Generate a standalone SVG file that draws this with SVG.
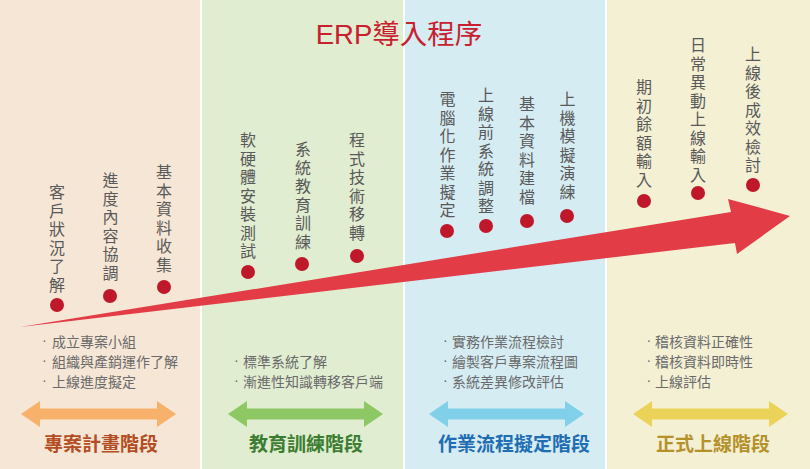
<svg xmlns="http://www.w3.org/2000/svg" width="810" height="469" viewBox="0 0 810 469">
<style>
.v{font-family:"Noto Sans CJK TC","Noto Sans CJK SC",sans-serif;font-size:16px;fill:#595959;writing-mode:vertical-rl;text-orientation:upright;letter-spacing:2.5px}
.dot{fill:#c0182b}
.b{font-family:"Noto Sans CJK TC","Noto Sans CJK SC",sans-serif;font-size:14px;fill:#6a6a6a}
.bd{font-family:"Liberation Sans",sans-serif;font-size:14px;fill:#6a6a6a}
.lab{font-family:"Noto Sans CJK TC","Noto Sans CJK SC",sans-serif;font-size:19px;font-weight:bold;text-anchor:middle}
</style>
<rect x="0" y="0" width="810" height="469" fill="#ffffff"/>
<g id="backgrounds">
<rect x="0" y="0" width="200" height="469" fill="#f6e6d5"/>
<rect x="202" y="0" width="201" height="469" fill="#e0edd0"/>
<rect x="405" y="0" width="200" height="469" fill="#d5ecf2"/>
<rect x="607" y="0" width="203" height="469" fill="#f4f0d4"/>
</g>
<text id="title" x="399" y="44" text-anchor="middle" font-family="Liberation Sans, Noto Sans CJK TC, sans-serif" font-size="27.5" fill="#c8202f">ERP導入程序</text>
<g id="connectors">
<polygon id="progress-arrow" points="20,327 731,212 728,199 790,216 737,254 735,243" fill="#e23c47"/>
</g>
<g id="step-1"><circle class="dot" cx="57" cy="305" r="7"/><text class="v" x="57" y="184">客戶狀況了解</text></g>
<g id="step-2"><circle class="dot" cx="110" cy="296" r="7"/><text class="v" x="110.5" y="172">進度內容協調</text></g>
<g id="step-3"><circle class="dot" cx="164" cy="287" r="7"/><text class="v" x="164" y="164">基本資料收集</text></g>
<g id="step-4"><circle class="dot" cx="248" cy="272" r="7"/><text class="v" x="248" y="132">軟硬體安裝測試</text></g>
<g id="step-5"><circle class="dot" cx="302" cy="264" r="7"/><text class="v" x="303" y="141">系統教育訓練</text></g>
<g id="step-6"><circle class="dot" cx="357" cy="256" r="7"/><text class="v" x="357" y="132">程式技術移轉</text></g>
<g id="step-7"><circle class="dot" cx="447" cy="231" r="7"/><text class="v" x="447.5" y="91">電腦化作業擬定</text></g>
<g id="step-8"><circle class="dot" cx="486" cy="226" r="7"/><text class="v" x="486" y="87">上線前系統調整</text></g>
<g id="step-9"><circle class="dot" cx="527" cy="221" r="7"/><text class="v" x="527" y="96">基本資料建檔</text></g>
<g id="step-10"><circle class="dot" cx="567" cy="216" r="7"/><text class="v" x="567.5" y="91">上機模擬演練</text></g>
<g id="step-11"><circle class="dot" cx="644" cy="201" r="7"/><text class="v" x="644" y="79">期初餘額輸入</text></g>
<g id="step-12"><circle class="dot" cx="698" cy="193" r="7"/><text class="v" x="698" y="37">日常異動上線輸入</text></g>
<g id="step-13"><circle class="dot" cx="753" cy="185" r="7"/><text class="v" x="753" y="46">上線後成效檢討</text></g>
<g id="phase-1">
<text class="bd" x="42" y="345">·</text><text class="b" x="52" y="347">成立專案小組</text>
<text class="bd" x="42" y="365">·</text><text class="b" x="52" y="367">組織與產銷運作了解</text>
<text class="bd" x="42" y="385">·</text><text class="b" x="52" y="387">上線進度擬定</text>
<polygon points="21,414 40,401 40,408.5 157,408.5 157,401 176,414 157,427 157,419.5 40,419.5 40,427" fill="#f8b16a"/>
<text class="lab" x="101" y="451" fill="#b34d24">專案計畫階段</text>
</g>
<g id="phase-2">
<text class="bd" x="234" y="365">·</text><text class="b" x="243" y="367">標準系統了解</text>
<text class="bd" x="234" y="385">·</text><text class="b" x="243" y="387">漸進性知識轉移客戶端</text>
<polygon points="228,414 247,401 247,408.5 364,408.5 364,401 383,414 364,427 364,419.5 247,419.5 247,427" fill="#8dc865"/>
<text class="lab" x="306" y="451" fill="#3d7d33">教育訓練階段</text>
</g>
<g id="phase-3">
<text class="bd" x="443" y="345">·</text><text class="b" x="452" y="347">實務作業流程檢討</text>
<text class="bd" x="443" y="365">·</text><text class="b" x="452" y="367">繪製客戶專案流程圖</text>
<text class="bd" x="443" y="385">·</text><text class="b" x="452" y="387">系統差異修改評估</text>
<polygon points="429,414 448,401 448,408.5 565,408.5 565,401 584,414 565,427 565,419.5 448,419.5 448,427" fill="#7fd0e8"/>
<text class="lab" x="514" y="451" fill="#1f6db3">作業流程擬定階段</text>
</g>
<g id="phase-4">
<text class="bd" x="646.5" y="345">·</text><text class="b" x="655" y="347">稽核資料正確性</text>
<text class="bd" x="646.5" y="365">·</text><text class="b" x="655" y="367">稽核資料即時性</text>
<text class="bd" x="646.5" y="385">·</text><text class="b" x="655" y="387">上線評估</text>
<polygon points="633,414 652,401 652,408.5 769,408.5 769,401 788,414 769,427 769,419.5 652,419.5 652,427" fill="#ebd35a"/>
<text class="lab" x="713" y="451" fill="#b5912c">正式上線階段</text>
</g>
</svg>
